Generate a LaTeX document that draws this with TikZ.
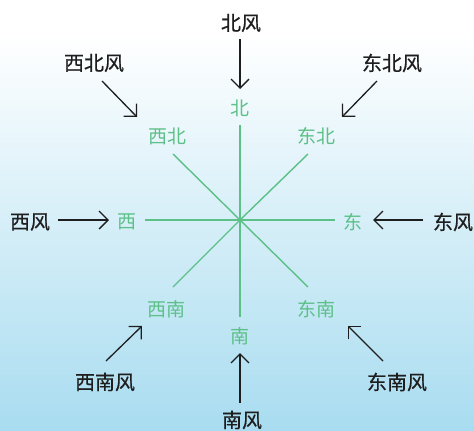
\documentclass[tikz,border=0pt]{standalone}
\usepackage{fontspec}
\newfontfamily\cjk{Noto Sans CJK SC}
\newfontfamily\cjkbold[FakeBold=0.6]{Noto Sans CJK SC}
\usetikzlibrary{arrows.meta}
\definecolor{dirgreen}{RGB}{92,192,135}
\definecolor{skyb}{RGB}{168,220,240}
\definecolor{skym}{RGB}{216,238,246}
\definecolor{ink}{RGB}{30,30,30}
\begin{document}
\begin{tikzpicture}[x=1pt,y=-1pt,
  dirlabel/.style={text=dirgreen, font=\cjk\fontsize{19}{19}\selectfont, inner sep=0pt, anchor=center},
  windlabel/.style={text=ink, font=\cjkbold\fontsize{20}{20}\selectfont, inner sep=0pt, anchor=center},
  axisline/.style={draw=dirgreen, line width=1.4pt},
  windarrow/.style={draw=ink, line width=1.3pt, -{Straight Barb[length=9pt,width=18pt,line width=1.3pt]}}]
\useasboundingbox (0,0) rectangle (474,431);
\fill[white] (0,0) rectangle (474,431);
\shade[top color=white, middle color=skym, bottom color=skyb] (0,35) rectangle (474,431);

% axes
\coordinate (O) at (240,220);
\coordinate (eN) at (240,125);
\coordinate (eS) at (240,317);
\coordinate (eW) at (145,220);
\coordinate (eE) at (335,220);
\coordinate (eNW) at (173,154);
\coordinate (eNE) at (308,154);
\coordinate (eSW) at (173,287);
\coordinate (eSE) at (308,287);
\foreach \e in {eN,eS,eW,eE,eNW,eNE,eSW,eSE} \draw[axisline] (O) -- (\e);

% direction labels
\node[dirlabel] (nN) at (240,108) {北};
\node[dirlabel] (nNW) at (167,136) {西北};
\node[dirlabel] (nNE) at (316,136) {东北};
\node[dirlabel] (nW) at (127,222) {西};
\node[dirlabel] (nE) at (353,222) {东};
\node[dirlabel] (nSW) at (166,309) {西南};
\node[dirlabel] (nSE) at (316,309) {东南};
\node[dirlabel] (nS) at (240,336) {南};

% wind labels
\node[windlabel] (wN) at (241,23) {北风};
\node[windlabel] (wNW) at (94,63) {西北风};
\node[windlabel] (wNE) at (392,63) {东北风};
\node[windlabel] (wW) at (30,222) {西风};
\node[windlabel] (wE) at (453,222) {东风};
\node[windlabel] (wSW) at (105,382) {西南风};
\node[windlabel] (wSE) at (397,382) {东南风};
\node[windlabel] (wS) at (242,420) {南风};

% arrow end points
\coordinate (aN1) at (240,39);  \coordinate (aN2) at (240,89);
\coordinate (aNW1) at (102,81); \coordinate (aNW2) at (137,117);
\coordinate (aNE1) at (377,81); \coordinate (aNE2) at (342,117);
\coordinate (aW1) at (58,220);  \coordinate (aW2) at (109,220);
\coordinate (aE1) at (423,220); \coordinate (aE2) at (373,220);
\coordinate (aSW1) at (106,361); \coordinate (aSW2) at (142,326);
\coordinate (aSE1) at (383,361); \coordinate (aSE2) at (348,326);
\coordinate (aS1) at (240,403); \coordinate (aS2) at (240,353);
\foreach \a in {N,NW,NE,W,E,SW,SE,S} \draw[windarrow] (a\a1) -- (a\a2);
\end{tikzpicture}
\end{document}
